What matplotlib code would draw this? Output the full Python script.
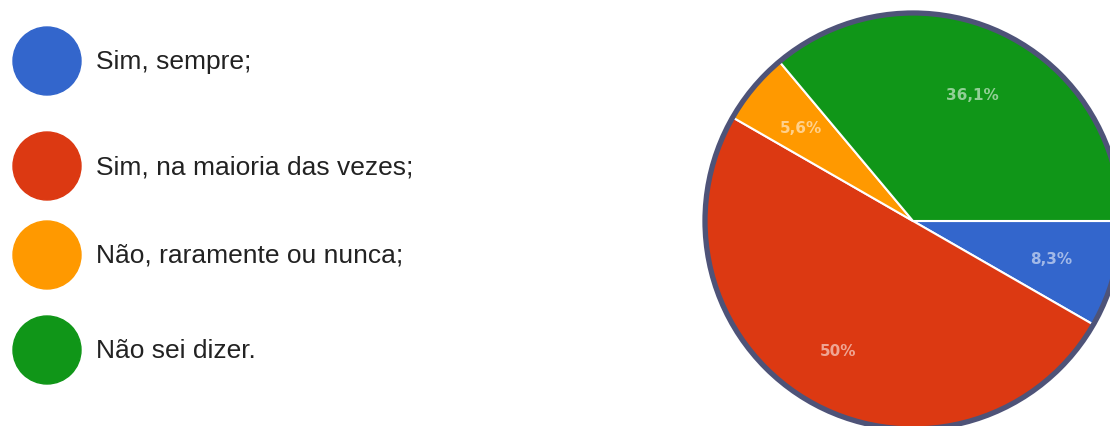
import matplotlib
matplotlib.use("Agg")
import matplotlib.pyplot as plt
from matplotlib.patches import Circle
import numpy as np

categories = ["Sim, sempre;", "Sim, na maioria das vezes;", "Não, raramente ou nunca;", "Não sei dizer."]
values = [8.3, 50.0, 5.6, 36.1]
pct_labels = ["8,3%", "50%", "5,6%", "36,1%"]
colors = ["#3366cc", "#dc3912", "#ff9900", "#109618"]

fig = plt.figure(figsize=(11.10, 4.27), dpi=100)
ax = fig.add_axes([0, 0, 1, 1])

cx, cy, R = 913, 205, 208
wedges, _ = ax.pie(values, colors=colors, startangle=0, counterclock=False,
                   center=(cx, cy), radius=R, frame=True,
                   wedgeprops=dict(edgecolor="white", linewidth=1.5))
ax.set_xlim(0, 1110)
ax.set_ylim(0, 427)
ax.set_aspect("equal")
ax.axis("off")

theta = 0.0
dists = [0.69, 0.72, 0.70, 0.67]
for v, lab, d in zip(values, pct_labels, dists):
    mid = theta - v / 100 * 360 / 2
    theta -= v / 100 * 360
    x = cx + d * R * np.cos(np.radians(mid))
    y = cy + d * R * np.sin(np.radians(mid))
    ax.text(x, y, lab, ha="center", va="center", color="white", alpha=0.55,
            fontsize=11, fontweight="bold", family="DejaVu Sans")

ax.add_patch(Circle((cx, cy), R, fill=False, edgecolor="#4e5378", linewidth=3.8, zorder=5))

leg_y = [365, 260, 171, 76]
for c, lab, y in zip(colors, categories, leg_y):
    ax.add_patch(Circle((47, y), 34, color=c))
    ax.text(96, y, lab, ha="left", va="center", fontsize=19, color="#222222",
            family="Liberation Sans")

fig.savefig("out.png", dpi=100)
